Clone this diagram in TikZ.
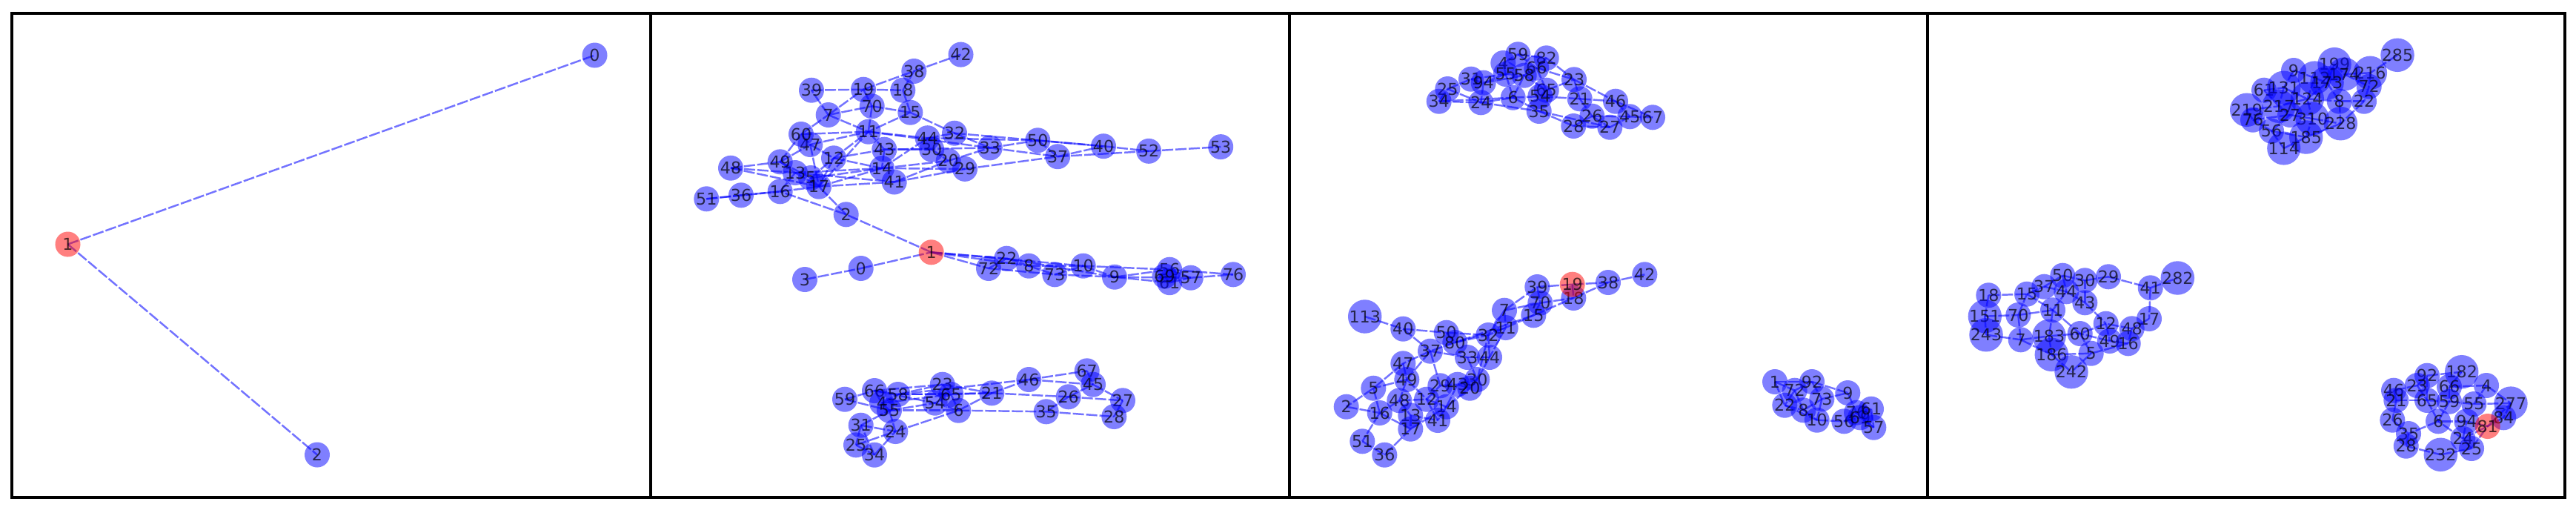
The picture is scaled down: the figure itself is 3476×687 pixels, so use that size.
\documentclass[tikz,border=0pt]{standalone}
\usepackage{fontspec}
\setmainfont{DejaVu Sans}
\pgfdeclarelayer{bg}
\pgfsetlayers{bg,main}
\tikzset{
  vn/.style={circle, fill=blue, fill opacity=0.5, text=black, text opacity=0.7, minimum size=0.34cm, inner sep=0pt, font=\fontsize{6.3}{7}\selectfont},
  rn/.style={vn, fill=red},
  edge/.style={draw=blue, draw opacity=0.55, line width=0.7pt, dash pattern=on 0.15cm off 0.03cm},
  panelframe/.style={draw=black, line width=1pt}
}
\begin{document}
\begin{tikzpicture}[x=0.01cm, y=-0.01cm]
\useasboundingbox (0,0) rectangle (3476,687);
% frames
\draw[panelframe] (16,18) rectangle (878,671);
\draw[panelframe] (878,18) rectangle (1740,671);
\draw[panelframe] (1740,18) rectangle (2601,671);
\draw[panelframe] (2601,18) rectangle (3461,671);

% ---------- panel 1 ----------
\node[vn] (a0) at (802.5,74.5) {0};
\node[vn] (a2) at (428,613.5) {2};
\node[rn] (a1) at (91.5,329.5) {1};
\begin{pgfonlayer}{bg}
\foreach \p/\q in {1/0,1/2} \draw[edge] (a\p.center) -- (a\q.center);
\end{pgfonlayer}

% ---------- panel 2 ----------
\foreach \n/\x/\y in {0/1161.7/362, 2/1141.7/289.3, 3/1086/377, 5/1094/240, 7/1117.7/155, 11/1171.7/177.7, 12/1125/213.3, 13/1073/233, 14/1190/227, 15/1228.3/151.7, 16/1052.7/258.3, 17/1105/251.7, 18/1218.3/121.7, 19/1165/120.7, 20/1279.7/216.9, 29/1302/227.9, 30/1257.2/201.6, 32/1288/179.7, 33/1335.8/199.4, 36/1000/263.3, 37/1427.2/211.2, 38/1233.3/96, 39/1095/121.7, 40/1489/197.2, 41/1206.7/245.5, 42/1296.5/73.6, 43/1193.3/201.7, 44/1251.6/186.2, 47/1093.3/195, 48/986/226.7, 49/1052.7/218.3, 50/1400.3/189.3, 51/953.3/268.3, 52/1550.1/203.8, 53/1647.2/198.1, 60/1081/181, 70/1176.7/143.3, 72/1334/362, 22/1358.3/348.7, 8/1388.3/358.7, 73/1423.3/370.3, 10/1461.7/358.7, 9/1504/373.7, 56/1578.2/363.7, 61/1578.2/381.2, 69/1571.5/372.5, 57/1606.8/374.7, 76/1664/370.3, 59/1140/538.7, 66/1180/527, 4/1190/543.7, 58/1211.7/532, 55/1200/553.7, 31/1161.7/573.7, 24/1208.3/582, 25/1155/600.3, 34/1180/613.7, 23/1271.7/518.7, 54/1261.7/543.7, 65/1283.3/532, 6/1293.3/553.7, 21/1338.3/530.3, 46/1388.3/512, 67/1466.7/500.3, 45/1475/518.7, 26/1441.7/535.3, 35/1411.7/555.3, 27/1515/540.3, 28/1503.3/562}
  \node[vn] (b\n) at (\x,\y) {\n};
\node[rn] (b1) at (1256.7,340.3) {1};
\begin{pgfonlayer}{bg}
\foreach \p/\q in {3/0,0/1,1/2,2/17,2/16,
 1/72,1/22,1/8,1/10,72/22,72/73,22/8,8/73,8/10,73/10,73/9,10/9,10/56,9/61,9/57,56/57,61/57,57/76,56/76,69/61,9/56,22/9,
 51/36,36/16,51/16,16/17,16/13,48/49,48/13,48/17,49/5,49/47,49/60,60/7,60/11,47/11,47/12,7/19,7/70,7/11,7/39,39/19,19/18,19/70,19/38,18/38,38/42,18/15,70/15,70/11,15/11,15/32,11/43,11/44,11/33,12/43,12/14,12/17,13/17,5/17,5/12,17/14,17/41,13/14,14/29,14/20,14/44,43/30,43/33,44/32,44/50,32/33,32/40,33/50,33/37,50/40,50/37,37/40,40/52,52/53,37/52,20/33,29/37,41/29,41/20,13/41,17/11,60/47,47/17,49/13,5/14,43/14,30/20,12/11,
 59/66,59/55,66/58,66/4,4/55,4/58,58/23,58/65,58/21,55/54,55/6,55/24,31/55,31/24,31/25,25/34,25/24,34/24,24/6,66/23,23/65,23/21,54/65,54/6,65/6,65/21,6/21,6/35,21/46,46/67,21/26,46/45,67/45,45/27,26/27,26/35,35/28,27/28,26/45,58/46,4/65,66/54,34/31}
  \draw[edge] (b\p.center) -- (b\q.center);
\end{pgfonlayer}

% ---------- panel 3 ----------
\foreach \n/\x/\y in {59/2048.3/73.3, 82/2086.7/78.3, 4/2028.3/85, 66/2073.3/91.7, 55/2031.7/100, 58/2056.7/101.7, 31/1985/106.7, 94/2001.7/111.7, 25/1953.3/120, 34/1941.7/136.7, 24/1998.3/138.3, 6/2041.7/131.7, 65/2086.7/121.7, 54/2078.3/130, 23/2124/107.3, 21/2131.7/133.3, 46/2180/136.7, 35/2076.7/150, 26/2148.3/156.7, 28/2123.3/170, 27/2172.3/171.7, 45/2199.3/157.3, 67/2230/158.3, 18/2123.3/402, 38/2170/381, 42/2219.3/370.3, 39/2074.3/387, 70/2078.3/408.7, 7/2030/418.7, 15/2069.3/425.3, 11/2031.7/442, 113/1841.7/427, 40/1893.3/443.7, 50/1951.7/448.7, 80/1963.3/462, 32/2008.3/452, 37/1930/473.7, 33/1980/482, 44/2010/482, 47/1893.3/490.3, 49/1898.3/512, 30/1993.3/512, 29/1943.3/520.3, 43/1966.7/518.7, 20/1983.3/523.7, 5/1853.3/523.7, 48/1888.3/540.3, 12/1925/538.7, 14/1951.7/548.7, 2/1816.7/548.7, 16/1861.7/557, 13/1903.3/560.3, 41/1940/567, 17/1903.3/578.7, 51/1838.3/595.3, 36/1868.3/613.7, 1/2395/515, 72/2421.7/526.7, 92/2445/515, 9/2493.3/530, 22/2408.3/546.7, 8/2433.3/553.3, 73/2458.3/538.3, 10/2451.7/566.7, 56/2488.3/568.3, 76/2505/556.7, 69/2510/563.3, 61/2525/551.7, 57/2528.3/576.7}
  \node[vn] (c\n) at (\x,\y) {\n};
\node[rn] (c19) at (2121.7,383.7) {19};
\begin{pgfonlayer}{bg}
\foreach \p/\q in {34/25,34/24,25/31,25/24,31/94,94/24,94/55,55/4,4/59,59/82,59/66,82/66,55/58,58/66,58/6,6/24,6/54,6/35,54/65,65/23,66/23,23/21,23/46,21/46,21/54,21/26,35/28,35/27,26/27,26/45,28/27,27/45,45/67,46/45,46/67,58/65,24/35,34/6,94/58,82/23,31/55,55/6,66/65,28/26,
 19/38,38/42,19/39,19/18,18/38,39/70,70/18,70/15,15/18,7/39,7/70,7/11,11/15,11/32,11/44,113/40,40/50,40/37,50/80,50/32,80/32,80/37,37/33,80/11,33/44,33/30,44/30,44/32,37/47,37/49,47/49,47/5,49/5,5/2,2/16,5/16,49/48,48/16,48/12,48/13,12/29,12/14,29/43,43/20,20/30,14/20,14/41,13/17,13/41,16/17,16/51,51/36,36/17,17/14,37/29,49/12,12/41,30/32,7/32,15/80,43/30,14/43,
 1/72,1/92,1/22,72/92,72/22,72/8,92/73,92/9,22/8,8/73,8/10,73/10,73/9,10/56,9/76,56/76,56/69,76/61,61/57,69/57,76/57,22/10}
  \draw[edge] (c\p.center) -- (c\q.center);
\end{pgfonlayer}

% ---------- panel 4 ----------
\foreach \n/\x/\y in {285/3235/74.3, 199/3150/86.7, 216/3198.3/98.3, 174/3163.3/100, 9/3095/95, 112/3123.3/105, 173/3140/111.7, 61/3055/121.7, 131/3081.7/118.3, 72/3196.7/116.7, 124/3113.3/133.3, 8/3156.7/136.7, 22/3190/136.7, 219/3031.7/148.3, 217/3075/143.3, 76/3040/161.7, 27/3090/155, 310/3120/160, 228/3158.3/166.7, 56/3065/176.7, 185/3111.7/185, 114/3081.7/200, 18/2683.3/398.3, 151/2678.3/426.7, 243/2680/451.7, 15/2735/396.7, 70/2723.3/425, 7/2726.7/458.3, 37/2758.3/386.7, 50/2783.3/371.7, 30/2813.3/378.3, 29/2845/373.3, 44/2788.3/393.3, 43/2813.3/408.3, 11/2770/418.3, 41/2901.7/388.3, 282/2938.3/375, 17/2900/430, 12/2841.7/436.7, 48/2876.7/443.3, 60/2806.7/450, 183/2765/453.3, 49/2846.7/460, 16/2871.7/463.3, 5/2821.7/476.7, 186/2768.3/478.3, 242/2795/501.7, 182/3321.7/501.7, 92/3275/506.7, 23/3261.7/520, 46/3230/526.7, 66/3305/521.7, 4/3355/520, 21/3233.3/540, 65/3275/540, 59/3305/541.7, 55/3338.3/545, 277/3388/544, 84/3378.3/563.3, 26/3228.3/566.7, 6/3290/568.3, 94/3328.3/568.3, 35/3250/585, 28/3246.7/601.7, 24/3323.3/591.7, 25/3335/605, 232/3293.3/613.3}
  \node[vn] (d\n) at (\x,\y) {\n};
\node[rn] (d81) at (3356.7,575) {81};
\begin{pgfonlayer}{bg}
\foreach \p/\q in {285/216,216/174,216/72,199/174,199/173,174/72,72/22,22/8,8/173,8/228,9/131,9/112,112/173,61/131,61/217,131/124,124/217,124/8,124/310,217/27,219/76,219/217,76/56,76/27,27/310,56/185,56/114,114/185,185/310,310/228,228/185,112/124,173/124,22/228,27/56,131/217,
 18/15,18/151,151/243,151/70,70/15,243/7,7/70,7/183,15/37,37/50,37/44,50/30,50/44,30/29,29/41,41/282,41/17,17/48,48/16,48/12,16/49,12/49,12/60,43/30,43/44,11/44,11/70,11/183,11/60,183/186,7/186,186/5,5/242,186/242,5/60,5/16,49/60,183/60,43/12,15/11,
 46/23,46/21,23/92,92/182,182/66,66/4,66/59,92/65,23/65,21/26,21/65,65/59,59/55,55/4,4/277,55/277,277/84,84/81,81/94,94/6,6/65,6/59,6/35,26/35,35/28,28/232,232/25,25/24,24/94,24/81,25/81,81/277,24/6}
  \draw[edge] (d\p.center) -- (d\q.center);
\end{pgfonlayer}
\end{tikzpicture}
\end{document}
